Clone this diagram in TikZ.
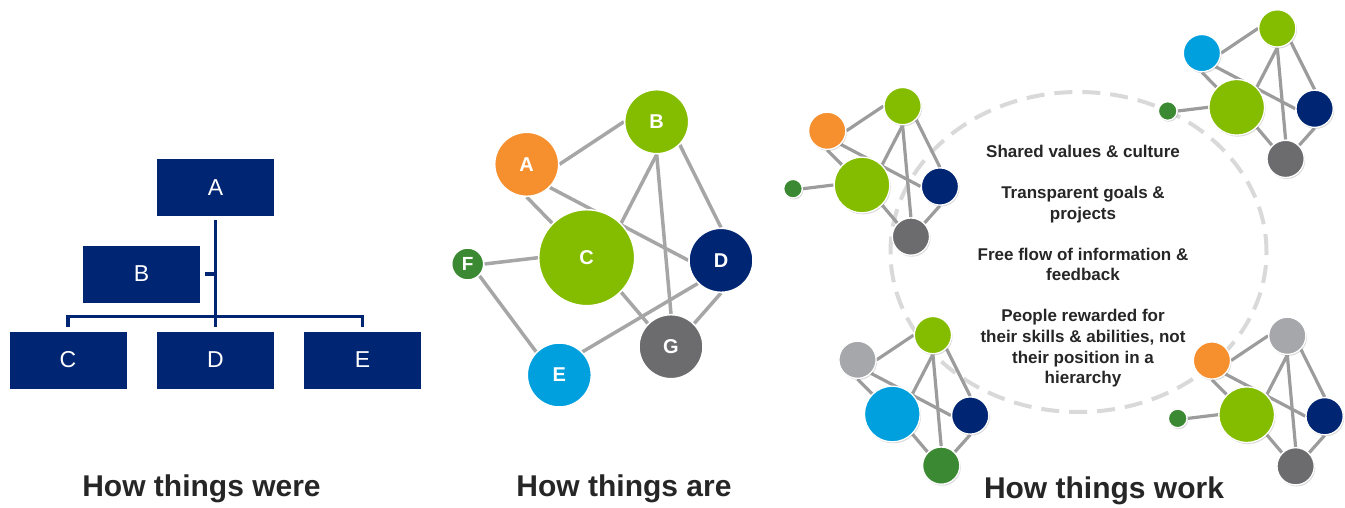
\documentclass[tikz,border=0pt]{standalone}
\usepackage{fontspec}
\setmainfont{Liberation Sans}
\usetikzlibrary{shadows}
\pgfdeclarelayer{bg}
\pgfsetlayers{bg,main}
\definecolor{cnavy}{RGB}{0,38,115}
\definecolor{clime}{RGB}{132,188,0}
\definecolor{corange}{RGB}{246,143,45}
\definecolor{cblue}{RGB}{0,160,222}
\definecolor{cdgreen}{RGB}{59,137,50}
\definecolor{cdgray}{RGB}{108,108,110}
\definecolor{clgray}{RGB}{166,167,170}
\definecolor{cedgecol}{RGB}{166,166,166}
\definecolor{cedgecolb}{RGB}{156,156,156}
\definecolor{ctext}{RGB}{38,38,38}
\definecolor{cdash}{RGB}{217,217,217}
\tikzset{
  orgbox/.style={rectangle, fill=cnavy, minimum width=117pt, minimum height=57pt, inner sep=0pt, text=white, font=\fontsize{23}{27}\selectfont},
  orgline/.style={draw=cnavy, line width=3.9pt, line join=miter},
  mb/.style={circle, draw=white, line width=1.5pt, inner sep=0pt, text=white, font=\bfseries\fontsize{20}{24}\selectfont},
  medge/.style={draw=cedgecol, line width=3.5pt},
  cb/.style={circle, draw=white, line width=1.3pt, inner sep=0pt, minimum size=37.2pt, drop shadow={shadow xshift=1pt, shadow yshift=-1.5pt, opacity=0.3}},
  cbsmall/.style={cb, minimum size=18.6pt, fill=cdgreen},
  cedge/.style={draw=cedgecolb, line width=3.2pt},
  titletext/.style={font=\bfseries\fontsize{30}{36}\selectfont, text=ctext, anchor=base, inner sep=0pt},
  infotext/.style={align=center, font=\bfseries\fontsize{17}{20.55}\selectfont, text=ctext, inner sep=0pt},
  dashring/.style={draw=cdash, line width=4pt, dash pattern=on 18pt off 10pt}
}
% #1 prefix, #2 centre of big node, #3 A colour, #4 B colour, #5 C colour, #6 G colour
\newcommand\netcluster[6]{%
  \begin{scope}[shift={(#2)}]
    \node[cb, fill=#5, minimum size=55.7pt] (#1C) at (0,0) {};
    \node[cb, fill=#3] (#1A) at (-34.8,-54.2) {};
    \node[cb, fill=#4] (#1B) at (40.6,-78.9) {};
    \node[cb, fill=cnavy] (#1D) at (77.9,1.5) {};
    \node[cb, fill=#6] (#1G) at (48.9,51.6) {};
  \end{scope}
  \begin{pgfonlayer}{bg}
    \draw[cedge] (#1A.east) -- (#1B.west);
    \draw[cedge] (#1A.south) -- (#1C.135);
    \draw[cedge] (#1A.-45) -- (#1D.west);
    \draw[cedge] (#1B.south) -- (#1C.45);
    \draw[cedge] (#1B.south) -- (#1G.north);
    \draw[cedge] (#1B.-45) -- (#1D.north);
    \draw[cedge] (#1C.-45) -- (#1G.135);
    \draw[cedge] (#1D.south) -- (#1G.45);
  \end{pgfonlayer}%
}
\begin{document}
\begin{tikzpicture}[x=1pt, y=-1pt]
\useasboundingbox (0,0) rectangle (1345,508);

% ---------- left: org chart ----------
\node[orgbox] (oA) at (215.5,187.5) {A};
\node[orgbox] (oB) at (141.5,274) {B};
\node[orgbox] (oC) at (68,360) {C};
\node[orgbox] (oD) at (215.5,360) {D};
\node[orgbox] (oE) at (362.5,360) {E};
\draw[orgline] ([yshift=-4pt]oA.south) -- ([yshift=4.5pt]oD.north);
\draw[orgline, line width=3.4pt] ([yshift=4.5pt]oC.north) |- ([yshift=15pt]oE.north) -- ([yshift=4.5pt]oE.north);
\draw[orgline, line width=3.4pt] ([xshift=4.5pt]oB.east) -- (oB.east -| oA.south);

% ---------- middle: network ----------
\node[mb, fill=corange, minimum size=64pt] (A) at (526.7,164.3) {A};
\node[mb, fill=clime, minimum size=64pt] (B) at (656.7,121.7) {B};
\node[mb, fill=clime, minimum size=96pt] (C) at (586.7,257.7) {C};
\node[mb, fill=cnavy, minimum size=64pt] (D) at (721,260.3) {D};
\node[mb, fill=cblue, minimum size=64pt] (E) at (559.3,375) {E};
\node[mb, fill=cdgreen, minimum size=32pt, font=\bfseries\fontsize{19}{22}\selectfont] (F) at (467.7,264) {F};
\node[mb, fill=cdgray, minimum size=64pt] (G) at (671,346.7) {G};
\begin{pgfonlayer}{bg}
  \draw[medge] (A.east) -- (B.west);
  \draw[medge] (A.south) -- (C.135);
  \draw[medge] (A.-45) -- (D.west);
  \draw[medge] (B.south) -- (C.45);
  \draw[medge] (B.south) -- (G.north);
  \draw[medge] (B.-45) -- (D.north);
  \draw[medge] (C.west) -- (F.east);
  \draw[medge] (C.-45) -- (G.135);
  \draw[medge] (F.-45) -- (E.135);
  \draw[medge] (E.45) -- (D.-135);
  \draw[medge] (D.south) -- (G.45);
\end{pgfonlayer}

% ---------- right: clusters ----------
\begin{pgfonlayer}{bg}
  \draw[dashring] (1078.5,252) ellipse [x radius=188pt, y radius=160pt];
\end{pgfonlayer}

\netcluster{tl}{862,185}{corange}{clime}{clime}{cdgray}
\node[cbsmall] (tlF) at (793,188.7) {};
\netcluster{tr}{1236.7,107.3}{cblue}{clime}{clime}{cdgray}
\node[cbsmall] (trF) at (1167.7,111) {};
\netcluster{bl}{892.3,414}{clgray}{clime}{cblue}{cdgreen}
\netcluster{br}{1246.7,414.7}{corange}{clgray}{clime}{cdgray}
\node[cbsmall] (brF) at (1177.7,418.4) {};
\begin{pgfonlayer}{bg}
  \draw[cedge] (tlC.west) -- (tlF.east);
  \draw[cedge] (trC.west) -- (trF.east);
  \draw[cedge] (brC.west) -- (brF.east);
\end{pgfonlayer}

\node[infotext, anchor=north] (info) at (1083,145) {Shared values \& culture\\[20.55pt]
Transparent goals \&\\ projects\\[20.55pt]
Free flow of information \&\\ feedback\\[20.55pt]
People rewarded for\\ their skills \& abilities, not\\ their position in a\\ hierarchy};

% ---------- titles ----------
\node[titletext] (t1) at (201.5,496) {How things were};
\node[titletext] (t2) at (624,496) {How things are};
\node[titletext] (t3) at (1104,498) {How things work};
\end{tikzpicture}
\end{document}
